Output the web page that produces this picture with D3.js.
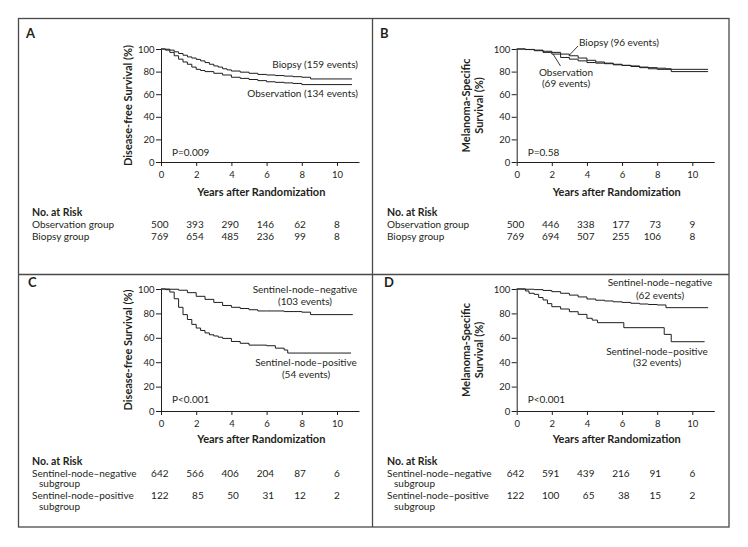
<!DOCTYPE html>
<html><head><meta charset="utf-8">
<script src="https://cdn.jsdelivr.net/npm/d3@7"></script>
<style>
html,body{margin:0;padding:0;background:#fff;}
svg text{font-family:Lato,"Open Sans",sans-serif;fill:#231f20;}
</style></head>
<body><svg id="c" width="748" height="547"></svg>
<script>
// ---------- data ----------
const xTickYears = [0, 2, 4, 6, 8, 10];
const yTickValues = [0, 20, 40, 60, 80, 100];

// Panel A: disease-free survival, all patients
const dfsBiopsy = [[0,100],[0.25,99.8],[0.5,99],[0.75,97.5],[1,96],[1.25,94.5],[1.5,93],[1.75,92],[2,90.8],[2.25,89.5],[2.5,88],[2.75,86.5],[3,85],[3.25,84],[3.5,82.5],[3.75,81.5],[4,80.5],[4.5,79.5],[5,78.5],[5.5,77.5],[6,77],[6.5,76.5],[7,76],[7.5,75.5],[8,75],[8.5,73.5],[10.85,73.5]];
const dfsObservation = [[0,100],[0.25,99],[0.5,97],[0.75,94],[1,91],[1.25,88.5],[1.5,86.5],[1.75,84],[2,82],[2.25,81],[2.5,80],[3,78.5],[3.5,77],[4,75],[4.5,74],[5,73],[5.5,72],[6,71],[6.5,70.5],[7,70],[7.5,69.5],[8,68.5],[10.85,68.5]];
// Panel B: melanoma-specific survival, all patients
const mssBiopsy = [[0,100],[0.5,99.6],[1,99],[1.5,98],[2,97],[2.5,95.5],[3,94],[3.5,92],[4,90],[4.5,88.5],[5,87.5],[5.5,86.5],[6,85.5],[6.5,85],[7,84],[7.5,83.5],[8,83],[8.5,82.5],[8.8,82],[10.9,82]];
const mssObservation = [[0,100],[0.5,99.5],[1,98.5],[1.5,97],[2,95.5],[2.5,92.5],[3,91],[3.5,89.5],[4,88],[4.5,87.5],[5,87],[5.5,86],[6,85.5],[6.5,84.5],[7,83.5],[7.5,82.5],[8,82],[8.8,80],[10.9,80]];
// Panel C: disease-free survival by sentinel-node status
const dfsNodeNegative = [[0,100],[0.5,99.8],[1,99],[1.5,97],[2,94],[2.5,91.5],[3,89],[3.5,86.5],[4,85],[4.5,84],[5,83],[5.5,82],[6,82],[7,81.5],[8,81],[8.5,79],[10.9,79]];
const dfsNodePositive = [[0,100],[0.25,99.5],[0.5,97.5],[0.75,92],[1,85],[1.25,79],[1.5,75],[1.75,71],[2,68],[2.25,66],[2.5,64],[2.75,62.5],[3,61.5],[3.25,60.5],[3.5,59.5],[4,57],[4.5,55.5],[5,54],[6,53.5],[6.5,51.5],[7,50],[7.2,47.5],[10.8,47.5]];
// Panel D: melanoma-specific survival by sentinel-node status
const mssNodeNegative = [[0,100],[0.5,99.8],[1,99.5],[1.5,98.8],[2,97.8],[2.5,96.5],[3,95],[3.5,93.5],[4,91.8],[4.5,90.8],[5,90.2],[5.5,89.5],[6,89],[6.5,88.3],[7,87.7],[7.5,87.3],[8,86.9],[8.5,84.7],[10.9,84.7]];
const mssNodePositive = [[0,100],[0.5,98.4],[0.7,96.5],[1,95.6],[1.25,93],[1.5,91],[1.75,88],[2,85.5],[2.5,83.6],[3,81.4],[3.5,79.2],[4,76],[4.3,74.5],[4.6,72.4],[6.1,68.3],[8.4,62.8],[8.8,56.8],[10.7,56.8]];

// numbers at risk
const riskA_obs = [500,393,290,146,62,8];
const riskA_bio = [769,654,485,236,99,8];
const riskB_obs = [500,446,338,177,73,9];
const riskB_bio = [769,694,507,255,106,8];
const riskC_neg = [642,566,406,204,87,6];
const riskC_pos = [122,85,50,31,12,2];
const riskD_neg = [642,591,439,216,91,6];
const riskD_pos = [122,100,65,38,15,2];

// ---------- drawing ----------
const svg = d3.select("#c");
const INK = "#231f20";

// frame
const frame = svg.append("g").attr("stroke","#4a4a4a").attr("stroke-width",1.3).attr("fill","none");
frame.append("rect").attr("x",18.5).attr("y",18.5).attr("width",710.5).attr("height",508.5);
frame.append("line").attr("x1",372.5).attr("x2",372.5).attr("y1",18.5).attr("y2",527);
frame.append("line").attr("x1",18.5).attr("x2",729).attr("y1",274.5).attr("y2",274.5);

function panel(o){
  const g = svg.append("g");
  const ppy = o.ppy;
  const x = d3.scaleLinear().domain([0, 11.25]).range([o.x0, o.x0 + ppy*11.25]);
  const y = d3.scaleLinear().domain([0, 100]).range([o.yb, o.yt]);

  g.append("text").attr("x", o.lx).attr("y", o.ly).attr("font-size", 13).attr("font-weight", 700).text(o.letter);

  const xa = g.append("g").attr("transform", `translate(0,${o.yb})`)
    .call(d3.axisBottom(x).tickValues(xTickYears).tickSize(4).tickSizeOuter(0).tickFormat(d3.format("d")));
  const ya = g.append("g").attr("transform", `translate(${o.x0},0)`)
    .call(d3.axisLeft(y).tickValues(yTickValues).tickSize(5).tickSizeOuter(0).tickFormat(d3.format("d")));
  [xa, ya].forEach(a => {
    a.select(".domain").attr("stroke", INK).attr("stroke-width", 1);
    a.selectAll(".tick line").attr("stroke", INK).attr("stroke-width", 1);
    a.selectAll(".tick text").attr("font-size", 9.5).attr("font-family","Lato").attr("fill", INK);
  });
  xa.selectAll(".tick text").attr("dy", "0.9em");
  ya.selectAll(".tick text").attr("x", -6.5);

  // axis titles
  g.append("text").attr("x", o.x0 + ppy*5.7).attr("y", o.yb + o.xTitleDy).attr("text-anchor","middle")
    .attr("font-size", 11).attr("font-weight", 700).text("Years after Randomization");
  const yt = g.append("text").attr("transform", `translate(${o.ytx},${(o.yt+o.yb)/2}) rotate(-90)`)
    .attr("text-anchor","middle").attr("font-size", 11).attr("font-weight", 700);
  o.yTitle.forEach((s,i) => yt.append("tspan").attr("x",0).attr("dy", i===0 ? (o.yTitle.length>1 ? -1 : 0) : 13).text(s));

  // curves
  const line = d3.line().curve(d3.curveStepAfter).x(d => x(d[0])).y(d => y(d[1]));
  o.series.forEach(s => g.append("path").datum(s).attr("d", line)
    .attr("fill","none").attr("stroke","#1e1e1e").attr("stroke-width",1));

  // curve labels
  o.labels.forEach(l => {
    const t = g.append("text").attr("font-size", 10).attr("text-anchor", l.anchor);
    l.lines.forEach((s,i) => t.append("tspan").attr("x", l.x).attr("y", l.y + i*l.lh).text(s));
  });
  (o.leaders||[]).forEach(p => g.append("line").attr("x1",p[0]).attr("y1",p[1]).attr("x2",p[2]).attr("y2",p[3])
    .attr("stroke", INK).attr("stroke-width", 0.9));

  g.append("text").attr("x", o.x0 + 11).attr("y", o.pY).attr("font-size", 10).text(o.pText);

  // number at risk
  g.append("text").attr("x", o.tx).attr("y", o.rY[0]).attr("font-size", 10.5).attr("font-weight", 700).text("No. at Risk");
  o.rows.forEach((r, ri) => {
    const t = g.append("text").attr("font-size", 10);
    r.label.forEach((s,i) => t.append("tspan").attr("x", o.tx + (i>0 ? 7 : 0)).attr("y", o.rY[1+ri] + i*10.5).text(s));
    r.values.forEach((v, i) => {
      const xp = x(xTickYears[i]);
      const anchor = i < 4 ? "end" : (i === 4 ? "end" : "middle");
      const dx = i < 4 ? 7.5 : (i === 4 ? 4 : 0);
      g.append("text").attr("x", xp + dx).attr("y", o.rY[1+ri]).attr("text-anchor", anchor).attr("font-size", 10).text(v);
    });
  });
}

panel({letter:"A", lx:26, ly:38, x0:161, ppy:17.6, yt:49, yb:162, xTitleDy:34, ytx:132,
  yTitle:["Disease-free Survival (%)"], series:[dfsBiopsy, dfsObservation],
  labels:[{x:358,y:68,lh:0,anchor:"end",lines:["Biopsy (159 events)"]},
          {x:358,y:97,lh:0,anchor:"end",lines:["Observation (134 events)"]}],
  pText:"P=0.009", pY:156, tx:32, rY:[216,228,240],
  rows:[{label:["Observation group"], values:riskA_obs},{label:["Biopsy group"], values:riskA_bio}]});

panel({letter:"B", lx:380, ly:38, x0:516.7, ppy:17.56, yt:49, yb:162, xTitleDy:34, ytx:471,
  yTitle:["Melanoma-Specific","Survival (%)"], series:[mssBiopsy, mssObservation],
  labels:[{x:579,y:45.5,lh:0,anchor:"start",lines:["Biopsy (96 events)"]},
          {x:566,y:75.5,lh:11,anchor:"middle",lines:["Observation","(69 events)"]}],
  leaders:[[578,46,569,55.5],[553,54,560.5,66]],
  pText:"P=0.58", pY:156, tx:387, rY:[216,228,240],
  rows:[{label:["Observation group"], values:riskB_obs},{label:["Biopsy group"], values:riskB_bio}]});

panel({letter:"C", lx:28, ly:287, x0:161, ppy:17.6, yt:289, yb:411, xTitleDy:32, ytx:132,
  yTitle:["Disease-free Survival (%)"], series:[dfsNodeNegative, dfsNodePositive],
  labels:[{x:305,y:292.5,lh:12,anchor:"middle",lines:["Sentinel-node\u2013negative","(103 events)"]},
          {x:306,y:366,lh:12,anchor:"middle",lines:["Sentinel-node\u2013positive","(54 events)"]}],
  pText:"P<0.001", pY:403, tx:32, rY:[465,476.5,499],
  rows:[{label:["Sentinel-node\u2013negative","subgroup"], values:riskC_neg},
        {label:["Sentinel-node\u2013positive","subgroup"], values:riskC_pos}]});

panel({letter:"D", lx:384, ly:287, x0:516.7, ppy:17.56, yt:289, yb:411, xTitleDy:32, ytx:471,
  yTitle:["Melanoma-Specific","Survival (%)"], series:[mssNodeNegative, mssNodePositive],
  labels:[{x:660,y:286,lh:12.5,anchor:"middle",lines:["Sentinel-node\u2013negative","(62 events)"]},
          {x:657,y:354.5,lh:11.5,anchor:"middle",lines:["Sentinel-node\u2013positive","(32 events)"]}],
  pText:"P<0.001", pY:403, tx:387, rY:[464.5,476.5,499],
  rows:[{label:["Sentinel-node\u2013negative","subgroup"], values:riskD_neg},
        {label:["Sentinel-node\u2013positive","subgroup"], values:riskD_pos}]});
</script></body></html>
